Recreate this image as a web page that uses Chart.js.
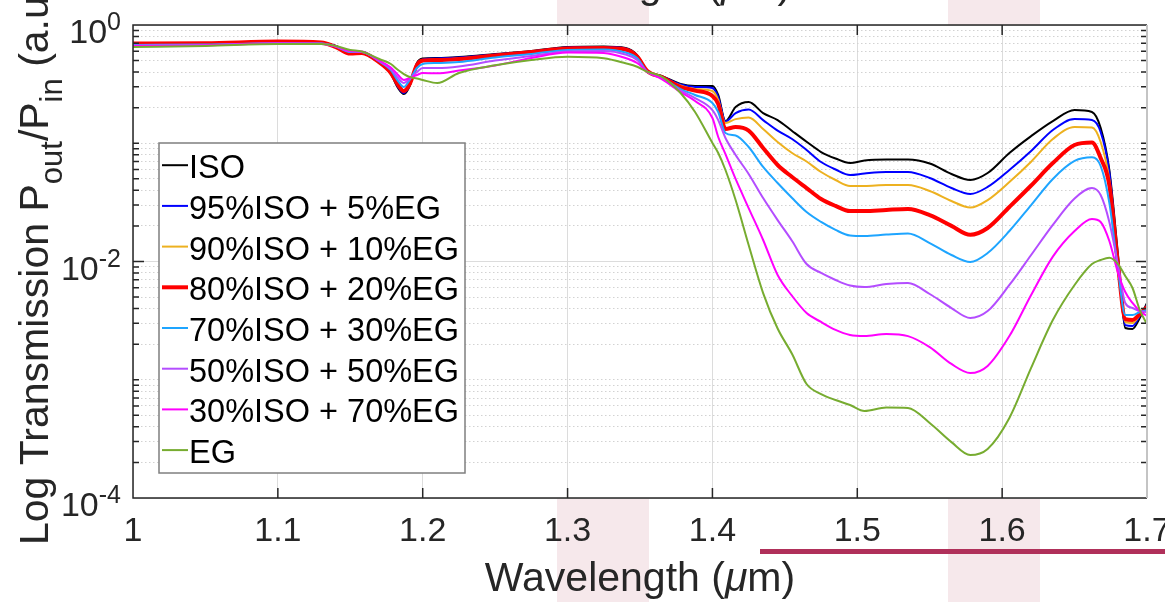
<!DOCTYPE html>
<html>
<head>
<meta charset="utf-8">
<script src="https://cdn.jsdelivr.net/npm/chart.js@4.4.1/dist/chart.umd.min.js"></script>
<style>
  html, body { margin: 0; padding: 0; background: #fff; }
  #wrap { width: 1165px; height: 602px; }
</style>
</head>
<body>
<div id="wrap"><canvas id="chart" width="1165" height="602"></canvas></div>
<script>
// wavelength in um, transmission Pout/Pin (linear, shown on log axis)
var wavelength = [1.000, 1.050, 1.100, 1.130, 1.140, 1.150, 1.158, 1.170, 1.178, 1.183,
    1.187, 1.191, 1.196, 1.200, 1.210, 1.225, 1.250, 1.275, 1.300, 1.325,
    1.340, 1.348, 1.355, 1.365, 1.378, 1.388, 1.400, 1.404, 1.409, 1.416,
    1.425, 1.435, 1.445, 1.455, 1.465, 1.475, 1.485, 1.495, 1.505, 1.520,
    1.535, 1.550, 1.565, 1.578, 1.590, 1.605, 1.620, 1.635, 1.650, 1.662,
    1.668, 1.674, 1.680, 1.685, 1.690, 1.695, 1.700];

var iso = [0.691, 0.700, 0.718, 0.711, 0.664, 0.591, 0.591, 0.486, 0.385, 0.293,
    0.261, 0.305, 0.477, 0.521, 0.526, 0.536, 0.568, 0.603, 0.651, 0.658,
    0.639, 0.557, 0.408, 0.371, 0.317, 0.305, 0.305, 0.256, 0.154, 0.2025,
    0.223, 0.180, 0.157, 0.127, 0.103, 0.0843, 0.0743, 0.068, 0.0715, 0.0729,
    0.0729, 0.0674, 0.055, 0.0489, 0.056, 0.0827, 0.115, 0.154, 0.191, 0.184,
    0.135, 0.0594, 0.01135, 0.00274, 0.00269, 0.00333, 0.00446];

var iso95 = [0.691, 0.697, 0.718, 0.700, 0.664, 0.585, 0.591, 0.486, 0.393, 0.299,
    0.266, 0.311, 0.468, 0.511, 0.521, 0.531, 0.563, 0.597, 0.645, 0.651,
    0.633, 0.552, 0.408, 0.367, 0.314, 0.299, 0.293, 0.246, 0.1527, 0.180,
    0.193, 0.157, 0.128, 0.1086, 0.0877, 0.0694, 0.060, 0.0539, 0.0555, 0.0571,
    0.0571, 0.0508, 0.0418, 0.0372, 0.0427, 0.0594, 0.086, 0.1294, 0.160, 0.157,
    0.1245, 0.0571, 0.0099, 0.0029, 0.00285, 0.00346, 0.00429];

var iso90 = [0.684, 0.691, 0.711, 0.700, 0.658, 0.585, 0.585, 0.486, 0.400, 0.311,
    0.2765, 0.317, 0.459, 0.496, 0.511, 0.521, 0.552, 0.585, 0.627, 0.633,
    0.615, 0.547, 0.408, 0.363, 0.308, 0.2875, 0.2765, 0.232, 0.1483, 0.160,
    0.165, 0.132, 0.1024, 0.0827, 0.0701, 0.0571, 0.0489, 0.0435, 0.0435, 0.0443,
    0.0443, 0.0395, 0.0325, 0.0286, 0.0331, 0.047, 0.0698, 0.1086, 0.1372, 0.1358,
    0.1024, 0.0489, 0.0099, 0.00308, 0.00302, 0.00353, 0.0042];

var iso80 = [0.697, 0.700, 0.725, 0.711, 0.651, 0.574, 0.580, 0.482, 0.393, 0.311,
    0.2765, 0.317, 0.459, 0.501, 0.506, 0.516, 0.552, 0.591, 0.633, 0.639,
    0.621, 0.5415, 0.408, 0.363, 0.299, 0.279, 0.251, 0.215, 0.132, 0.1372,
    0.128, 0.0912, 0.0655, 0.0518, 0.0418, 0.0338, 0.0295, 0.0267, 0.0267, 0.0273,
    0.0278, 0.0247, 0.020, 0.0168, 0.0192, 0.0289, 0.0439, 0.068, 0.0966, 0.1015,
    0.075, 0.0443, 0.00934, 0.00326, 0.0032, 0.0036, 0.00412];

var iso70 = [0.678, 0.684, 0.700, 0.697, 0.658, 0.591, 0.591, 0.491, 0.416, 0.336,
    0.299, 0.343, 0.433, 0.468, 0.477, 0.486, 0.531, 0.568, 0.615, 0.621,
    0.585, 0.526, 0.4045, 0.360, 0.2875, 0.256, 0.219, 0.1837, 0.122, 0.1163,
    0.0929, 0.063, 0.0461, 0.0344, 0.0262, 0.0216, 0.0185, 0.0166, 0.01643, 0.0169,
    0.01725, 0.01433, 0.01135, 0.0099, 0.0118, 0.0181, 0.030, 0.0499, 0.0708, 0.076,
    0.0642, 0.0313, 0.00848, 0.00353, 0.00353, 0.00374, 0.00389];

var iso50 = [0.671, 0.678, 0.700, 0.697, 0.658, 0.597, 0.591, 0.496, 0.4245, 0.356,
    0.323, 0.349, 0.400, 0.433, 0.433, 0.446, 0.501, 0.547, 0.597, 0.603,
    0.563, 0.506, 0.400, 0.356, 0.279, 0.241, 0.191, 0.157, 0.1107, 0.0796,
    0.055, 0.0344, 0.0224, 0.0149, 0.00952, 0.008, 0.00698, 0.00627, 0.00609, 0.00645,
    0.00658, 0.00531, 0.00404, 0.00333, 0.00381, 0.00633, 0.01135, 0.0204, 0.0341, 0.0418,
    0.0365, 0.0216, 0.00934, 0.00446, 0.00404, 0.00381, 0.00374];

var iso30 = [0.664, 0.671, 0.697, 0.691, 0.658, 0.603, 0.597, 0.501, 0.437, 0.378,
    0.343, 0.356, 0.378, 0.393, 0.390, 0.412, 0.4545, 0.526, 0.585, 0.580,
    0.526, 0.477, 0.4045, 0.349, 0.271, 0.2277, 0.1634, 0.113, 0.081, 0.0499,
    0.0283, 0.0152, 0.00769, 0.00511, 0.00367, 0.00308, 0.00264, 0.00239, 0.00234, 0.00244,
    0.00234, 0.00189, 0.00136, 0.00114, 0.00131, 0.00234, 0.00521, 0.011, 0.0181, 0.0229,
    0.0216, 0.0149, 0.0080, 0.00552, 0.00446, 0.00381, 0.00346];

var eg = [0.651, 0.664, 0.691, 0.691, 0.664, 0.615, 0.597, 0.516, 0.468, 0.416,
    0.385, 0.363, 0.353, 0.343, 0.323, 0.393, 0.456, 0.506, 0.539, 0.523,
    0.4745, 0.444, 0.403, 0.366, 0.266, 0.1837, 0.1005, 0.0827, 0.0594, 0.0331,
    0.0138, 0.00541, 0.00271, 0.00165, 0.00092, 0.000757, 0.000674, 0.000612, 0.000544, 0.000582,
    0.000577, 0.000431, 0.000297, 0.000231, 0.00026, 0.000475, 0.00126, 0.0032, 0.00633, 0.00952,
    0.0103, 0.01077, 0.00952, 0.00754, 0.00597, 0.00389, 0.00296];

var seriesLabels = ['ISO', '95%ISO + 5%EG', '90%ISO + 10%EG', '80%ISO + 20%EG',
    '70%ISO + 30%EG', '50%ISO + 50%EG', '30%ISO + 70%EG', 'EG'];
var seriesValues = [iso, iso95, iso90, iso80, iso70, iso50, iso30, eg];
var seriesColors = ['#000000', '#0000ff', '#edb120', '#ff0000', '#1ea5ff', '#b44dff', '#ff00ff', '#77ac30'];
var seriesWidths = [2, 2, 2, 4, 2, 2, 2, 2];

var xTicks = [1, 1.1, 1.2, 1.3, 1.4, 1.5, 1.6, 1.7];
var xTickLabels = ['1', '1.1', '1.2', '1.3', '1.4', '1.5', '1.6', '1.7'];
var yMajor = [1, 0.01, 0.0001];
var yMajorExp = ['0', '-2', '-4'];

var FONT = "'Liberation Sans', Arial, Helvetica, sans-serif";

// minor log ticks 1..9 x 10^k
var yGrid = [1];
for (var k = -4; k < 0; k++) {
    for (var m = 1; m < 10; m++) {
        yGrid.push(Number((m * Math.pow(10, k)).toPrecision(3)));
    }
}
function isMajor(v) {
    return yMajor.some(function(t) { return Math.abs(Math.log10(v) - Math.log10(t)) < 1e-6; });
}

var datasets = seriesValues.map(function(vals, i) {
    return {
        label: seriesLabels[i],
        data: vals.map(function(v, j) { return { x: wavelength[j], y: v }; }),
        borderColor: seriesColors[i],
        backgroundColor: seriesColors[i],
        borderWidth: seriesWidths[i],
        pointRadius: 0,
        fill: false,
        cubicInterpolationMode: 'monotone',
        order: seriesValues.length - 1 - i,
    };
});

function drawSegments(ctx, segs, x, y) {
    segs.forEach(function(s) {
        ctx.font = s.font;
        ctx.fillText(s.t, x, y + (s.dy || 0));
        x += ctx.measureText(s.t).width;
    });
}
function segWidth(ctx, segs) {
    var w = 0;
    segs.forEach(function(s) { ctx.font = s.font; w += ctx.measureText(s.t).width; });
    return w;
}

var decor = {
    id: 'decor',
    beforeDraw: function(chart) {
        var c = chart.ctx, a = chart.chartArea;
        c.save();
        c.fillStyle = '#f6e8eb';
        c.fillRect(557, 0, 92, chart.height);
        c.fillRect(948, 0, 92, chart.height);
        c.fillStyle = '#ffffff';
        c.fillRect(a.left, a.top, a.right - a.left, a.bottom - a.top);
        c.restore();
    },
    afterDraw: function(chart) {
        var c = chart.ctx, a = chart.chartArea;
        var xs = chart.scales.x, ys = chart.scales.y;
        c.save();

        // box and inward ticks
        c.lineWidth = 1.5;
        c.strokeStyle = '#262626';
        c.beginPath();
        c.moveTo(a.right, a.top); c.lineTo(a.left, a.top);
        c.lineTo(a.left, a.bottom); c.lineTo(a.right, a.bottom);
        xTicks.forEach(function(v) {
            var px = xs.getPixelForValue(v);
            c.moveTo(px, a.bottom); c.lineTo(px, a.bottom - 10);
            c.moveTo(px, a.top); c.lineTo(px, a.top + 10);
        });
        yGrid.forEach(function(v) {
            var py = ys.getPixelForValue(v);
            var len = isMajor(v) ? 11 : 6;
            c.moveTo(a.left, py); c.lineTo(a.left + len, py);
            c.moveTo(a.right, py); c.lineTo(a.right - len, py);
        });
        c.stroke();
        c.strokeStyle = '#c4c4c4';
        c.lineWidth = 2;
        c.beginPath();
        c.moveTo(a.right, a.top); c.lineTo(a.right, a.bottom);
        c.stroke();

        // y tick labels 10^n
        c.fillStyle = '#262626';
        c.textBaseline = 'alphabetic';
        c.textAlign = 'left';
        yMajor.forEach(function(v, i) {
            var py = ys.getPixelForValue(v);
            c.font = '25px ' + FONT;
            var ew = c.measureText(yMajorExp[i]).width;
            c.font = '34px ' + FONT;
            var bw = c.measureText('10').width;
            var x0 = 121 - ew - bw;
            c.fillText('10', x0, py + 18);
            c.font = '25px ' + FONT;
            c.fillText(yMajorExp[i], x0 + bw, py + 5);
        });

        // x label
        var main = '41px ' + FONT, ital = 'italic 41px ' + FONT;
        var xl = [{ t: 'Wavelength (', font: main }, { t: '\u03bc', font: ital }, { t: 'm)', font: main }];
        var w = segWidth(c, xl);
        var cx = (a.left + a.right) / 2;
        drawSegments(c, xl, cx - w / 2, 591);
        // label of the figure above, cut by the top edge
        drawSegments(c, xl, cx - w / 2 - 4, -2);

        // y label
        var sub = '31px ' + FONT;
        var yl = [
            { t: 'Log Transmission P', font: main },
            { t: 'out', font: sub, dy: 14 },
            { t: '/P', font: main },
            { t: 'in', font: sub, dy: 14 },
            { t: ' (a.u.)', font: main }
        ];
        c.save();
        c.translate(48, 545);
        c.rotate(-Math.PI / 2);
        drawSegments(c, yl, 0, 0);
        c.restore();

        // legend
        var L = 159, T = 143, R = 465, B = 473;
        c.fillStyle = '#ffffff';
        c.fillRect(L, T, R - L, B - T);
        c.strokeStyle = '#7f7f7f';
        c.lineWidth = 1.5;
        c.strokeRect(L, T, R - L, B - T);
        c.font = '32.5px ' + FONT;
        c.fillStyle = '#000000';
        chart.data.datasets.forEach(function(ds, i) {
            var cy = 166.7 + i * 40.7;
            c.strokeStyle = ds.borderColor;
            c.lineWidth = ds.borderWidth;
            c.beginPath();
            c.moveTo(162, cy - 1.5); c.lineTo(188, cy - 1.5);
            c.stroke();
            c.fillText(ds.label, 189, cy + 11.5);
        });

        // stray bar from the slide underneath
        c.fillStyle = '#b0305a';
        c.fillRect(760, 549, 405, 5);
        c.restore();
    }
};

var ctx = document.getElementById('chart');
var chart = new Chart(ctx, {
    type: 'line',
    data: { datasets: datasets },
    options: {
        responsive: false,
        animation: false,
        devicePixelRatio: 1,
        layout: { padding: { top: 25, right: 18, left: 0, bottom: 0 } },
        plugins: { legend: { display: false }, tooltip: { enabled: false } },
        scales: {
            x: {
                type: 'linear',
                min: 1,
                max: 1.7,
                afterBuildTicks: function(scale) {
                    scale.ticks = xTicks.map(function(v) { return { value: v }; });
                },
                afterFit: function(scale) {
                    scale.height = 104;
                    scale.paddingLeft = 0;
                    scale.paddingRight = 0;
                },
                ticks: {
                    autoSkip: false,
                    maxRotation: 0,
                    padding: 13,
                    color: '#262626',
                    font: { family: FONT, size: 34 },
                    callback: function(v, i) { return xTickLabels[i]; },
                },
                grid: { drawTicks: false, color: '#dcdcdc', lineWidth: 1 },
                border: { display: false },
            },
            y: {
                type: 'logarithmic',
                min: 0.0001,
                max: 1,
                afterBuildTicks: function(scale) {
                    scale.ticks = yGrid.map(function(v) { return { value: v }; });
                },
                afterFit: function(scale) { scale.width = 133; },
                ticks: { display: false },
                grid: {
                    drawTicks: false,
                    lineWidth: 1,
                    color: function(c) { return c.tick && isMajor(c.tick.value) ? '#dcdcdc' : '#d2d2d2'; },
                },
                border: {
                    display: false,
                    dash: function(c) { return c.tick && isMajor(c.tick.value) ? [] : [1.5, 2.5]; },
                },
            },
        },
    },
    plugins: [decor],
});
</script>
</body>
</html>
